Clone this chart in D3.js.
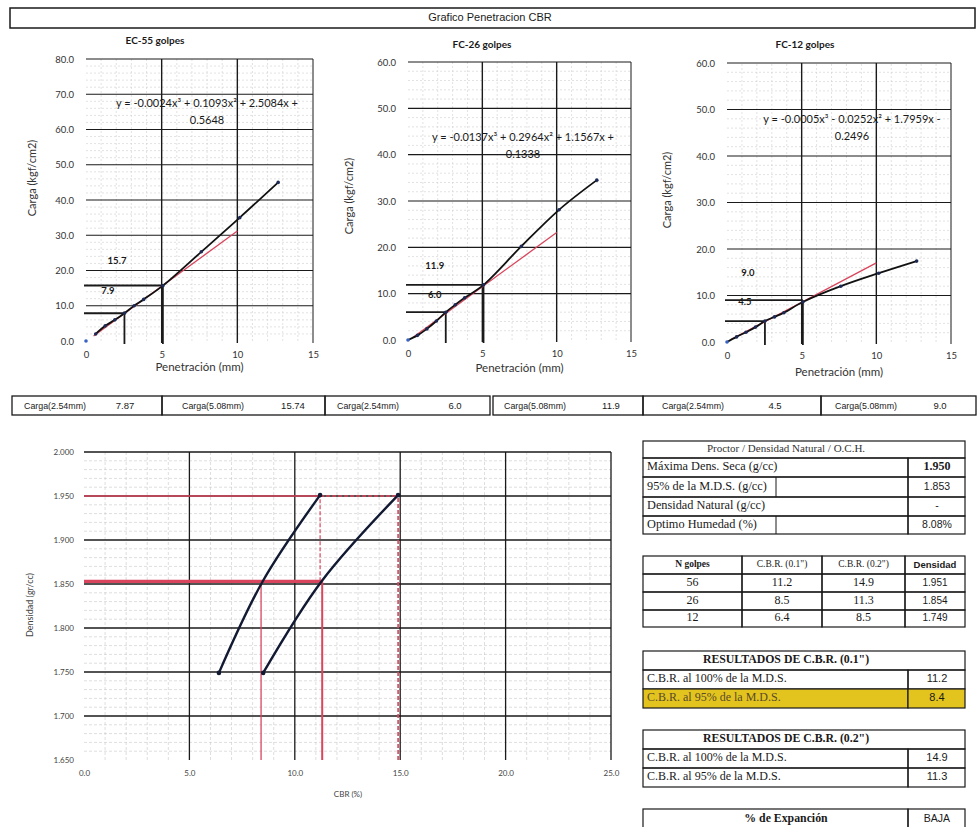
<!DOCTYPE html>
<html><head><meta charset="utf-8">
<script src="https://cdn.jsdelivr.net/npm/d3@7"></script>
<style>
html,body{margin:0;padding:0;background:#fff;}
svg{display:block;}
</style></head>
<body>
<svg id="c" width="978" height="827"></svg>
<script>
// ---------- DATA ----------
const penetration = [0, 0.64, 1.27, 1.91, 2.54, 3.18, 3.81, 5.08, 7.62, 10.16, 12.7];
const load55 = [0, 2.0, 4.3, 6.0, 7.9, 10.0, 11.8, 15.7, 25.3, 35.0, 45.0];
const load26 = [0, 1.0, 2.4, 4.1, 6.0, 7.6, 9.1, 11.9, 20.2, 28.1, 34.5];
const load12 = [0, 1.1, 2.1, 3.2, 4.5, 5.4, 6.3, 8.6, 12.0, 14.8, 17.4];
const corr55 = [[0.5, 1.4], [10, 31.2]];
const corr26 = [[0.3, 0.5], [10, 23.2]];
const corr12 = [[0.3, 0.6], [10, 17.0]];
const chartTitles = ["EC-55 golpes", "FC-26 golpes", "FC-12 golpes"];
const equations = [
  ["y = -0.0024x\u00B3 + 0.1093x\u00B2 + 2.5084x +", "0.5648"],
  ["y = -0.0137x\u00B3 + 0.2964x\u00B2 + 1.1567x +", "0.1338"],
  ["y = -0.0005x\u00B3 - 0.0252x\u00B2 + 1.7959x -", "0.2496"]
];
const yMaxTop = [80, 60, 60];
const penTicks = [0, 5, 10, 15];
const pen254 = 2.54, pen508 = 5.08;
const carga254 = [7.87, 6.0, 4.5];
const carga508 = [15.74, 11.9, 9.0];
const cargaText254 = ["7.87", "6.0", "4.5"];
const cargaText508 = ["15.74", "11.9", "9.0"];

const golpes = [56, 26, 12];
const cbr01 = [11.2, 8.5, 6.4];
const cbr02 = [14.9, 11.3, 8.5];
const densidad = [1.951, 1.854, 1.749];
const densText = ["1.951", "1.854", "1.749"];
const densTicks = [1.650, 1.700, 1.750, 1.800, 1.850, 1.900, 1.950, 2.000];
const cbrTicks = [0, 5, 10, 15, 20, 25];
const mds = 1.950, mds95 = 1.853;
const cbr100_01 = 11.2, cbr95_01 = 8.4, cbr100_02 = 14.9, cbr95_02 = 11.3;

const proctorLabels = ["Máxima Dens. Seca (g/cc)", "95% de la M.D.S. (g/cc)", "Densidad Natural (g/cc)", "Optimo Humedad (%)"];
const proctorValues = ["1.950", "1.853", "-", "8.08%"];
const res01Values = ["11.2", "8.4"];
const res02Values = ["14.9", "11.3"];

// ---------- DRAW ----------
const svg = d3.select("#c");
const SANS = "Lato, 'Open Sans', sans-serif";
const NARROW = "'Liberation Sans Narrow', 'Arial Narrow', 'Liberation Sans', sans-serif";
const SERIF = "'Liberation Serif', 'DejaVu Serif', serif";
const RED = "#d8455c";
const INK = "#1a1a1a";

// title bar
svg.append("rect").attr("x", 10).attr("y", 8).attr("width", 965).attr("height", 20)
  .attr("fill", "none").attr("stroke", INK).attr("stroke-width", 1.5);
svg.append("text").attr("x", 490).attr("y", 18).attr("text-anchor", "middle")
  .attr("dominant-baseline", "middle").attr("font-family", NARROW).attr("font-size", 11)
  .attr("fill", INK).text("Grafico Penetracion CBR");

const topLayout = [
  {xr: [86, 313], yr: [341, 59], tx: 155, ty: 41, ex: 207, ey: 104, yl: 33, ylc: 178, axY: 368,
   lab254: [1.45, -22], lab508: [2.05, -24], data: load55, corr: corr55, skipFirst: true},
  {xr: [408, 631], yr: [340, 62], tx: 482, ty: 45, ex: 523, ey: 138, yl: 350, ylc: 196, axY: 369,
   lab254: [1.8, -17], lab508: [1.8, -18], data: load26, corr: corr26, skipFirst: false},
  {xr: [727, 951], yr: [342, 63], tx: 805, ty: 45, ex: 852, ey: 120, yl: 668, ylc: 190, axY: 373,
   lab254: [1.2, -19], lab508: [1.4, -27], data: load12, corr: corr12, skipFirst: false}
];

topLayout.forEach((L, i) => {
  const ymax = yMaxTop[i];
  const x = d3.scaleLinear().domain([0, 15]).range(L.xr);
  const y = d3.scaleLinear().domain([0, ymax]).range(L.yr);
  const g = svg.append("g");
  // minor grid
  d3.range(1, 15).filter(v => v % 5 !== 0).forEach(v => {
    g.append("line").attr("x1", x(v)).attr("x2", x(v)).attr("y1", y(0)).attr("y2", y(ymax))
      .attr("stroke", "#cfcfcf").attr("stroke-width", 0.6).attr("stroke-dasharray", "2,2");
  });
  d3.range(2, ymax, 2).filter(v => v % 10 !== 0).forEach(v => {
    g.append("line").attr("x1", x(0)).attr("x2", x(15)).attr("y1", y(v)).attr("y2", y(v))
      .attr("stroke", "#cfcfcf").attr("stroke-width", 0.6).attr("stroke-dasharray", "2,2");
  });
  // major grid
  d3.range(10, ymax + 1, 10).forEach(v => {
    g.append("line").attr("x1", x(0)).attr("x2", x(15)).attr("y1", y(v)).attr("y2", y(v))
      .attr("stroke", INK).attr("stroke-width", 1.2);
  });
  [5, 10, 15].forEach(v => {
    g.append("line").attr("x1", x(v)).attr("x2", x(v)).attr("y1", y(0) + 2).attr("y2", y(ymax))
      .attr("stroke", INK).attr("stroke-width", v === 15 ? 1 : 1.4);
  });
  // axes
  const ya = d3.axisLeft(y).tickValues(d3.range(0, ymax + 1, 10)).tickSize(0).tickPadding(8).tickFormat(d3.format(".1f"));
  const yg = g.append("g").attr("transform", `translate(${L.xr[0] - 4},0)`).call(ya);
  yg.select(".domain").remove();
  yg.selectAll("text").attr("font-family", SANS).attr("font-size", 9.5).attr("fill", "#333");
  const xa = d3.axisBottom(x).tickValues(penTicks).tickSize(0).tickPadding(8).tickFormat(d3.format("d"));
  const xg = g.append("g").attr("transform", `translate(0,${L.yr[0] + 2})`).call(xa);
  xg.select(".domain").remove();
  xg.selectAll("text").attr("font-family", SANS).attr("font-size", 9.5).attr("fill", "#333");
  // titles
  g.append("text").attr("x", L.tx).attr("y", L.ty).attr("text-anchor", "middle").attr("dominant-baseline", "middle")
    .attr("font-family", SANS).attr("font-weight", "bold").attr("font-size", 10).attr("fill", INK).text(chartTitles[i]);
  g.append("text").attr("transform", `translate(${L.yl},${L.ylc}) rotate(-90)`)
    .attr("text-anchor", "middle").attr("dominant-baseline", "middle")
    .attr("font-family", SANS).attr("font-size", 11).attr("fill", "#333").text("Carga (kgf/cm2)");
  g.append("text").attr("x", (L.xr[0] + L.xr[1]) / 2).attr("y", L.axY).attr("text-anchor", "middle")
    .attr("dominant-baseline", "middle").attr("font-family", SANS).attr("font-size", 11.5).attr("fill", "#333")
    .text("Penetración (mm)");
  // reference lines
  [[pen254, carga254[i]], [pen508, carga508[i]]].forEach(([px, v]) => {
    g.append("line").attr("x1", x(0) - 2).attr("x2", x(px)).attr("y1", y(v)).attr("y2", y(v))
      .attr("stroke", INK).attr("stroke-width", 1.8);
    g.append("line").attr("x1", x(px)).attr("x2", x(px)).attr("y1", y(v)).attr("y2", y(0) + 3)
      .attr("stroke", INK).attr("stroke-width", 1.8);
  });
  [[L.lab254, carga254[i]], [L.lab508, carga508[i]]].forEach(([lp, v]) => {
    g.append("text").attr("x", x(lp[0])).attr("y", y(v) + lp[1]).attr("text-anchor", "middle")
      .attr("dominant-baseline", "middle").attr("font-family", SANS).attr("font-weight", "bold")
      .attr("font-size", 9.5).attr("fill", INK).text(d3.format(".1f")(v));
  });
  // red correction line
  g.append("path").datum(L.corr).attr("fill", "none").attr("stroke", RED).attr("stroke-width", 1.3)
    .attr("d", d3.line().x(d => x(d[0])).y(d => y(d[1])));
  // curve
  const pts = penetration.map((p, k) => [p, L.data[k]]);
  const linePts = L.skipFirst ? pts.slice(1) : pts;
  g.append("path").datum(linePts).attr("fill", "none").attr("stroke", "#111").attr("stroke-width", 1.8)
    .attr("d", d3.line().x(d => x(d[0])).y(d => y(d[1])).curve(d3.curveCatmullRom.alpha(0.5)));
  g.selectAll(".pt").data(pts).enter().append("circle")
    .attr("cx", d => x(d[0])).attr("cy", d => y(d[1])).attr("r", 1.8)
    .attr("fill", (d, k) => k === 0 ? "#3a62c4" : "#1d2a55");
  // equation
  g.append("text").attr("x", L.ex).attr("y", L.ey).attr("text-anchor", "middle").attr("dominant-baseline", "middle")
    .attr("font-family", SANS).attr("font-size", 11).attr("fill", INK).text(equations[i][0]);
  g.append("text").attr("x", L.ex).attr("y", L.ey + 17).attr("text-anchor", "middle").attr("dominant-baseline", "middle")
    .attr("font-family", SANS).attr("font-size", 11).attr("fill", INK).text(equations[i][1]);
});

// ---------- Carga row ----------
const cargaBoxes = [
  [12, 162, "Carga(2.54mm)", cargaText254[0], 55, 125],
  [162, 325, "Carga(5.08mm)", cargaText508[0], 213, 293],
  [325, 490, "Carga(2.54mm)", cargaText254[1], 368, 455],
  [493, 643, "Carga(5.08mm)", cargaText508[1], 535, 611],
  [643, 821, "Carga(2.54mm)", cargaText254[2], 693, 775],
  [821, 976, "Carga(5.08mm)", cargaText508[2], 866, 940]
];
cargaBoxes.forEach(b => {
  svg.append("rect").attr("x", b[0]).attr("y", 396).attr("width", b[1] - b[0]).attr("height", 19)
    .attr("fill", "none").attr("stroke", INK).attr("stroke-width", 1.3);
  svg.append("text").attr("x", b[4]).attr("y", 406).attr("text-anchor", "middle").attr("dominant-baseline", "middle")
    .attr("font-family", NARROW).attr("font-size", 9.5).attr("textLength", 62).attr("lengthAdjust", "spacingAndGlyphs")
    .attr("fill", INK).text(b[2]);
  svg.append("text").attr("x", b[5]).attr("y", 406).attr("text-anchor", "middle").attr("dominant-baseline", "middle")
    .attr("font-family", NARROW).attr("font-size", 9.5).attr("fill", INK).text(b[3]);
});

// ---------- Bottom chart ----------
{
  const x = d3.scaleLinear().domain([0, 25]).range([84, 611]);
  const y = d3.scaleLinear().domain([1.65, 2.0]).range([760, 452]);
  const g = svg.append("g");
  d3.range(1, 25).filter(v => v % 5 !== 0).forEach(v => {
    g.append("line").attr("x1", x(v)).attr("x2", x(v)).attr("y1", y(1.65)).attr("y2", y(2.0))
      .attr("stroke", "#c8c8c8").attr("stroke-width", 0.6).attr("stroke-dasharray", "3,2");
  });
  d3.range(1, 35).map(k => 1.65 + k * 0.01).filter((v, k) => (k + 1) % 5 !== 0).forEach(v => {
    g.append("line").attr("x1", x(0)).attr("x2", x(25)).attr("y1", y(v)).attr("y2", y(v))
      .attr("stroke", "#c8c8c8").attr("stroke-width", 0.6).attr("stroke-dasharray", "3,2");
  });
  densTicks.filter(v => v > 1.66).forEach(v => {
    g.append("line").attr("x1", x(0)).attr("x2", x(25)).attr("y1", y(v)).attr("y2", y(v))
      .attr("stroke", INK).attr("stroke-width", 1.3);
  });
  cbrTicks.filter(v => v > 0).forEach(v => {
    g.append("line").attr("x1", x(v)).attr("x2", x(v)).attr("y1", y(1.65)).attr("y2", y(2.0))
      .attr("stroke", INK).attr("stroke-width", 1.3);
  });
  const ya = d3.axisLeft(y).tickValues(densTicks).tickSize(0).tickPadding(10).tickFormat(d3.format(".3f"));
  const yg = g.append("g").attr("transform", `translate(${x(0)},0)`).call(ya);
  yg.select(".domain").remove();
  yg.selectAll("text").attr("font-family", SANS).attr("font-size", 8).attr("fill", "#444");
  const xa = d3.axisBottom(x).tickValues(cbrTicks).tickSize(0).tickPadding(10).tickFormat(d3.format(".1f"));
  const xg = g.append("g").attr("transform", `translate(0,${y(1.65)})`).call(xa);
  xg.select(".domain").remove();
  xg.selectAll("text").attr("font-family", SANS).attr("font-size", 8).attr("fill", "#444");
  g.append("text").attr("x", 348).attr("y", 795).attr("text-anchor", "middle").attr("dominant-baseline", "middle")
    .attr("font-family", SANS).attr("font-size", 8).attr("fill", "#444").text("CBR (%)");
  g.append("text").attr("transform", `translate(31,605) rotate(-90)`).attr("text-anchor", "middle")
    .attr("dominant-baseline", "middle").attr("font-family", SANS).attr("font-size", 9).attr("fill", "#444")
    .text("Densidad (gr/cc)");

  // red reference lines
  const ln = (x1, y1, x2, y2, w, dash, col) => g.append("line")
    .attr("x1", x(x1)).attr("y1", y(y1)).attr("x2", x(x2)).attr("y2", y(y2))
    .attr("stroke", col || RED).attr("stroke-width", w).attr("stroke-dasharray", dash || null);
  ln(0, mds, cbr100_01, mds, 1.6);
  ln(cbr100_01, mds, cbr100_02, mds, 1.3, "4,2");
  ln(0, mds95, cbr95_02, mds95, 3.2);
  ln(cbr95_01, 1.65, cbr95_01, mds95, 1.3);
  ln(cbr95_02, 1.65, cbr95_02, mds95, 2.0);
  ln(cbr100_01, mds95, cbr100_01, mds, 1.2, "4,2");
  ln(cbr100_02, 1.65, cbr100_02, mds, 1.6, "4,2");

  const curve = d3.line().x(d => x(d[0])).y(d => y(d[1])).curve(d3.curveCatmullRom.alpha(0.5));
  [cbr01, cbr02].forEach(arr => {
    const pts = arr.map((c, k) => [c, densidad[k]]).reverse();
    g.append("path").datum(pts).attr("fill", "none").attr("stroke", "#121a33").attr("stroke-width", 2.4).attr("d", curve);
    g.selectAll(null).data([pts[0], pts[pts.length - 1]]).enter().append("circle")
      .attr("cx", d => x(d[0])).attr("cy", d => y(d[1])).attr("r", 2.3).attr("fill", "#121a33");
  });
}

// ---------- Tables ----------
const TX0 = 643, TX1 = 965, TV = 908;
const rect = (x0, y0, x1, y1, fill, w) => svg.append("rect").attr("x", x0).attr("y", y0)
  .attr("width", x1 - x0).attr("height", y1 - y0).attr("fill", fill || "none")
  .attr("stroke", INK).attr("stroke-width", w || 1.2);
const txt = (x, y, s, opt) => {
  opt = opt || {};
  return svg.append("text").attr("x", x).attr("y", y).attr("text-anchor", opt.anchor || "middle")
    .attr("dominant-baseline", "middle").attr("font-family", opt.font || SERIF)
    .attr("font-size", opt.size || 11).attr("font-weight", opt.bold ? "bold" : null)
    .attr("fill", opt.fill || INK).text(s);
};

// Table 1
{
  const rows = [441, 458, 477, 497, 516, 534];
  rect(TX0, rows[0], TX1, rows[1]);
  txt(786, (rows[0] + rows[1]) / 2, "Proctor / Densidad Natural / O.C.H.", {size: 11, fill: "#333"});
  proctorLabels.forEach((lab, k) => {
    const y0 = rows[k + 1], y1 = rows[k + 2];
    rect(TX0, y0, TV, y1);
    rect(TV, y0, TX1, y1);
    if (k === 1 || k === 3) svg.append("line").attr("x1", 776).attr("x2", 776).attr("y1", y0).attr("y2", y1)
      .attr("stroke", INK).attr("stroke-width", 1);
    txt(647, (y0 + y1) / 2, lab, {anchor: "start", size: 12.3});
    txt(937, (y0 + y1) / 2, proctorValues[k], k === 0 ? {bold: true, size: 12} : {font: NARROW, size: 10.5});
  });
}
// Table 2
{
  const cols = [643, 742, 822, 905, 965];
  const rows = [556, 574, 592, 610, 627];
  const heads = ["N golpes", "C.B.R. (0.1\")", "C.B.R. (0.2\")", "Densidad"];
  heads.forEach((h, c) => {
    rect(cols[c], rows[0], cols[c + 1], rows[1]);
    txt((cols[c] + cols[c + 1]) / 2, (rows[0] + rows[1]) / 2, h,
      c === 3 ? {font: NARROW, bold: true, size: 9.5} : {size: 9.5, bold: c === 0});
  });
  golpes.forEach((gp, r) => {
    const vals = [String(gp), d3.format(".1f")(cbr01[r]), d3.format(".1f")(cbr02[r]), densText[r]];
    vals.forEach((v, c) => {
      rect(cols[c], rows[r + 1], cols[c + 1], rows[r + 2]);
      txt((cols[c] + cols[c + 1]) / 2, (rows[r + 1] + rows[r + 2]) / 2, v,
        c === 3 ? {font: NARROW, size: 10} : {size: 12});
    });
  });
}
// Table 3 & 4
const resTable = (top, title, vals, highlight) => {
  const rows = [top, top + 19, top + 38, top + 57];
  rect(TX0, rows[0], TX1, rows[1]);
  txt(786, (rows[0] + rows[1]) / 2, title, {bold: true, size: 11.8});
  const labs = ["C.B.R. al 100% de la M.D.S.", "C.B.R. al 95% de la M.D.S."];
  labs.forEach((l, k) => {
    const y0 = rows[k + 1], y1 = rows[k + 2];
    const fill = (highlight && k === 1) ? "#e3c41e" : null;
    rect(TX0, y0, TV, y1, fill);
    rect(TV, y0, TX1, y1, fill);
    txt(647, (y0 + y1) / 2, l, {anchor: "start", size: 12, fill: (highlight && k === 1) ? "#5a4a2a" : INK});
    txt(937, (y0 + y1) / 2, vals[k], {font: NARROW, size: 11});
  });
};
resTable(651, "RESULTADOS DE C.B.R. (0.1\")", res01Values, true);
resTable(730, "RESULTADOS DE C.B.R. (0.2\")", res02Values, false);
// Table 5
rect(TX0, 809, TV, 832);
rect(TV, 809, TX1, 832);
txt(786, 819, "% de Expanción", {bold: true, size: 11.8});
txt(937, 819, "BAJA", {font: NARROW, size: 10.5});
</script>
</body></html>
